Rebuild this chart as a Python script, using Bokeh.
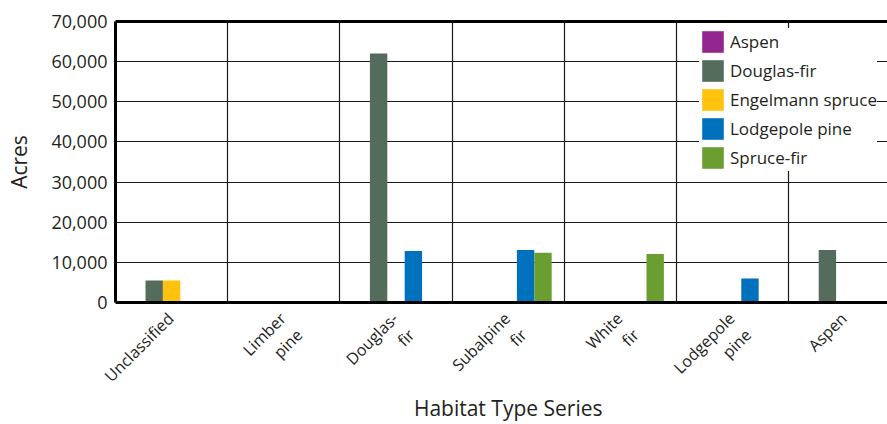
from math import pi
from bokeh.plotting import figure
from bokeh.layouts import column
from bokeh.models import (Range1d, FixedTicker, LinearAxis, Legend, LegendItem,
                          ColumnDataSource, NumeralTickFormatter)
from bokeh.core.properties import value
from bokeh.embed import file_html
from bokeh.resources import INLINE

# ---- data ----
categories = ["Unclassified", "Limber pine", "Douglas-fir", "Subalpine fir",
              "White fir", "Lodgepole pine", "Aspen"]
tick_line1 = ["Unclassified", "Limber", "Douglas-", "Subalpine", "White", "Lodgepole", "Aspen"]
tick_line2 = ["", "pine", "fir", "fir", "fir", "pine", ""]
series_names = ["Aspen", "Douglas-fir", "Engelmann spruce", "Lodgepole pine", "Spruce-fir"]
series_colors = ["#93278f", "#546c5c", "#ffc20e", "#0071bc", "#6b9e31"]
aspen = [0, 0, 0, 0, 0, 0, 0]
douglas_fir = [5500, 0, 62000, 0, 0, 0, 13100]
engelmann_spruce = [5500, 0, 0, 0, 0, 0, 0]
lodgepole_pine = [0, 0, 12800, 13100, 0, 6000, 0]
spruce_fir = [0, 0, 0, 12400, 12100, 0, 0]
y_ticks = [0, 10000, 20000, 30000, 40000, 50000, 60000, 70000]
x_title = "Habitat Type Series"
y_title = "Acres"

series_values = [aspen, douglas_fir, engelmann_spruce, lodgepole_pine, spruce_fir]

# ---- layout constants (pixels) ----
W = 887
LEFT = 115          # frame left edge
CAT_PX = 112.2      # width of one category
FRAME_BOTTOM = 302
H_TOP = 310
H_BOT = 424 - H_TOP

FONT = "Open Sans"
TXT = "#231f20"
BAR_W = 0.155

x_end = (W - LEFT) / CAT_PX

p = figure(width=W, height=H_TOP, output_backend="svg", toolbar_location=None,
           x_range=Range1d(0, x_end), y_range=Range1d(0, y_ticks[-1]),
           min_border_left=LEFT, min_border_top=21,
           min_border_bottom=H_TOP - FRAME_BOTTOM, min_border_right=0)
p.outline_line_color = None
p.background_fill_color = "white"
p.border_fill_color = "white"

centers = [i + 0.5 for i in range(len(categories))]

renderers = []
for k, (name, color, vals) in enumerate(zip(series_names, series_colors, series_values)):
    xs = [c + (k - 2) * BAR_W for c in centers]
    src = ColumnDataSource(dict(x=xs, top=vals, cat=categories))
    r = p.vbar(x="x", top="top", width=BAR_W, bottom=0, source=src,
               fill_color=color, line_color=None)
    renderers.append((name, r))

# y axis
ya = p.yaxis[0]
ya.ticker = FixedTicker(ticks=y_ticks)
ya.formatter = NumeralTickFormatter(format="0,0")
ya.major_tick_line_color = None
ya.minor_tick_line_color = None
ya.major_tick_out = 0
ya.major_tick_in = 0
ya.axis_line_width = 3
ya.axis_line_color = "black"
ya.major_label_standoff = 8
ya.major_label_text_font = FONT
ya.major_label_text_font_size = "18px"
ya.major_label_text_color = TXT
ya.axis_label = y_title
ya.axis_label_text_font = FONT
ya.axis_label_text_font_size = "21px"
ya.axis_label_text_font_style = "normal"
ya.axis_label_text_color = TXT
ya.axis_label_standoff = 15

# x axis: line only
xa = p.xaxis[0]
xa.ticker = FixedTicker(ticks=[])
xa.major_tick_line_color = None
xa.minor_tick_line_color = None
xa.major_tick_out = 0
xa.major_label_standoff = 0
xa.axis_label_standoff = 0
xa.axis_line_width = 3
xa.axis_line_color = "black"

# top border line
top_axis = LinearAxis(ticker=FixedTicker(ticks=[]), axis_line_width=3,
                      axis_line_color="black", major_tick_line_color=None,
                      minor_tick_line_color=None, major_tick_out=0,
                      major_label_standoff=0, major_label_text_font_size="0px")
p.add_layout(top_axis, "above")

# grids
p.xgrid.ticker = FixedTicker(ticks=list(range(1, len(categories))))
p.xgrid.grid_line_color = "#1a1a1a"
p.xgrid.grid_line_width = 1.2
p.ygrid.ticker = FixedTicker(ticks=y_ticks[1:-1])
p.ygrid.grid_line_color = "#1a1a1a"
p.ygrid.grid_line_width = 1.2

legend = Legend(items=[LegendItem(label=n, renderers=[r]) for n, r in renderers],
                location=(584, 130.7), glyph_width=27, glyph_height=27, label_height=27,
                spacing=2, padding=7, label_standoff=4, margin=0,
                label_text_font=FONT, label_text_font_size="17px",
                label_text_color=TXT, background_fill_color="white",
                background_fill_alpha=1.0, border_line_color=None)
p.add_layout(legend)

# ---- bottom strip: category labels and x title ----
p2 = figure(width=W, height=H_BOT, output_backend="svg", toolbar_location=None,
            x_range=Range1d(-LEFT / CAT_PX, x_end), y_range=Range1d(0, H_BOT),
            min_border_left=0, min_border_right=0, min_border_top=0,
            min_border_bottom=0, x_axis_location=None, y_axis_location=None)
p2.outline_line_color = None
p2.xgrid.visible = False
p2.ygrid.visible = False
p2.background_fill_color = "white"
p2.border_fill_color = "white"

for fig in (p, p2):
    try:
        fig.frame_align = False
    except Exception:
        pass

def y_from_page(py):
    return H_BOT - (py - H_TOP)

lab_src = ColumnDataSource(dict(x=centers, l1=tick_line1, l2=tick_line2))
common = dict(angle=pi / 4, text_align="right", text_baseline="alphabetic",
              text_font=value(FONT), text_font_size="16px", text_color=TXT,
              source=lab_src)
p2.text(x="x", y=y_from_page(315), text="l1", x_offset=-1, **common)
p2.text(x="x", y=y_from_page(331.5), text="l2", x_offset=15.5, **common)

title_src = ColumnDataSource(dict(x=[sum(centers) / len(centers)], t=[x_title]))
p2.text(x="x", y=y_from_page(407.5), text="t", source=title_src, text_align="center",
        text_baseline="alphabetic", text_font=value(FONT), text_font_size="21px",
        text_color=TXT)

layout = column(p, p2, spacing=0)
open("out.html", "w").write(file_html(layout, INLINE))
